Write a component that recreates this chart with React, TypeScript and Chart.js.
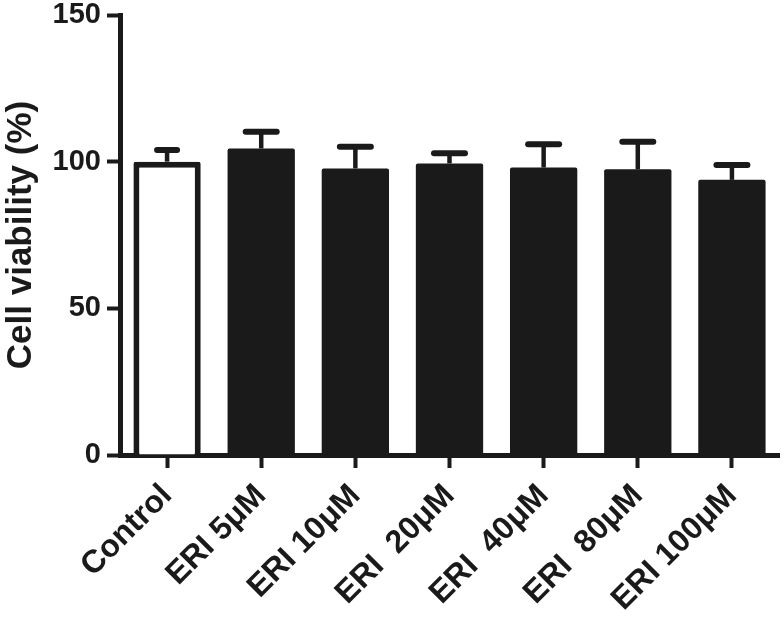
import React, { useEffect, useRef } from "react";
import { Chart, registerables } from "chart.js";

Chart.register(...registerables);

const categories = ["Control", "ERI 5μM", "ERI 10μM", "ERI  20μM", "ERI  40μM", "ERI  80μM", "ERI 100μM"];
const means = [100, 104.5, 97.7, 99.4, 98.0, 97.4, 93.8];
const errors = [4, 5.7, 7.4, 3.5, 7.9, 9.4, 5.1];
const yTicks = [0, 50, 100, 150];
const barColors = ["#ffffff", "#1a1a1a", "#1a1a1a", "#1a1a1a", "#1a1a1a", "#1a1a1a", "#1a1a1a"];

const INK = "#1a1a1a";
const FONT = "'Liberation Sans', Arial, sans-serif";

const errorBarPlugin = {
  id: "errorBars",
  afterDatasetsDraw(chart: any) {
    const ctx = chart.ctx;
    const meta = chart.getDatasetMeta(0);
    const yScale = chart.scales.y;
    ctx.save();
    ctx.strokeStyle = INK;
    meta.data.forEach((bar: any, i: number) => {
      const x = bar.x;
      const yTop = yScale.getPixelForValue(means[i] + errors[i]);
      const yBase = bar.y;
      ctx.lineCap = "butt";
      ctx.lineWidth = 4.5;
      ctx.beginPath();
      ctx.moveTo(x, yBase);
      ctx.lineTo(x, yTop);
      ctx.stroke();
      const half = i === 0 ? 10 : 15.5;
      ctx.lineCap = "round";
      ctx.lineWidth = 6;
      ctx.beginPath();
      ctx.moveTo(x - half, yTop);
      ctx.lineTo(x + half, yTop);
      ctx.stroke();
    });
    ctx.restore();
  },
};

export default function App() {
  const ref = useRef<HTMLCanvasElement | null>(null);
  useEffect(() => {
    document.body.style.margin = "0";
    const canvas = ref.current;
    if (!canvas) return;
    const chart = new Chart(canvas, {
      type: "bar",
      data: {
        labels: categories,
        datasets: [
          {
            data: means,
            backgroundColor: barColors,
            borderColor: INK,
            borderWidth: [6, 0, 0, 0, 0, 0, 0],
            borderRadius: 2,
            borderSkipped: "bottom",
            categoryPercentage: 1,
            barPercentage: 0.715,
          },
        ],
      },
      options: {
        responsive: false,
        animation: false,
        layout: { padding: { top: 15, right: 5, left: 0, bottom: 0 } },
        plugins: {
          legend: { display: false },
          tooltip: { enabled: false },
        },
        scales: {
          x: {
            offset: true,
            grid: {
              offset: false,
              drawOnChartArea: false,
              drawTicks: true,
              tickLength: 13,
              tickWidth: 4,
              tickColor: INK,
              color: INK,
            },
            border: { display: true, color: INK, width: 5 },
            ticks: {
              color: INK,
              font: { family: FONT, size: 32, weight: "bold" },
              minRotation: 45,
              maxRotation: 45,
              padding: 9,
            },
            afterFit(scale: any) {
              scale.height = 166;
              scale.paddingLeft = 0;
              scale.paddingRight = 0;
            },
          },
          y: {
            min: 0,
            max: 150,
            afterBuildTicks(scale: any) {
              scale.ticks = yTicks.map((v) => ({ value: v }));
            },
            grid: {
              drawOnChartArea: false,
              drawTicks: true,
              tickLength: 13,
              tickWidth: 4,
              tickColor: INK,
              color: INK,
            },
            border: { display: true, color: INK, width: 5 },
            ticks: {
              color: INK,
              font: { family: FONT, size: 29, weight: "bold" },
              padding: 6,
            },
            title: {
              display: true,
              text: "Cell viability (%)",
              color: INK,
              font: { family: FONT, size: 35, weight: "bold" },
              padding: { top: 0, bottom: 0 },
            },
            afterFit(scale: any) {
              scale.width = 120;
              scale.paddingTop = 0;
              scale.paddingBottom = 0;
            },
          },
        },
      },
      plugins: [errorBarPlugin],
    });
    return () => chart.destroy();
  }, []);
  return <canvas ref={ref} width={784} height={621} style={{ display: "block" }} />;
}
